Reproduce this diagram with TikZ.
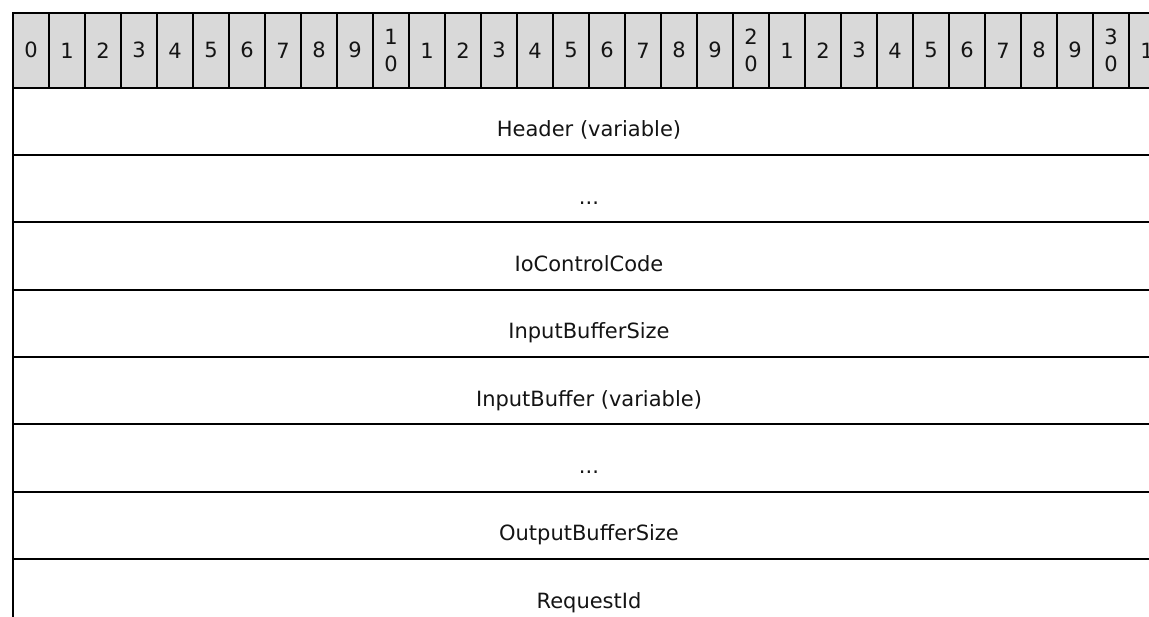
\documentclass[tikz,border=0pt]{standalone}
\usepackage{fontspec}
\setmainfont{DejaVu Sans}
\definecolor{hdrgray}{RGB}{217,217,217}
\definecolor{txt}{RGB}{20,20,20}
\newcommand{\mydots}{...}
\begin{document}
\begin{tikzpicture}[x=1pt,y=-1pt,
  cell/.style={draw=black, line width=2pt, fill=hdrgray, minimum width=36pt,
    minimum height=74.7pt, inner sep=0pt, anchor=north west, text=txt,
    font=\fontsize{21}{26.5}\selectfont, align=center},
  rowbox/.style={draw=black, line width=2pt, minimum width=1152pt,
    minimum height=67.33pt, inner sep=0pt, anchor=north west},
  rowtext/.style={anchor=base, inner sep=0pt, text=txt,
    font=\fontsize{21}{26}\selectfont}]
\useasboundingbox (0,0) rectangle (1149,617);
\clip (0,0) rectangle (1149,617);
% header bit cells
\foreach \i in {0,...,31}{
  \pgfmathtruncatemacro{\m}{mod(\i,10)}
  \pgfmathtruncatemacro{\t}{\i/10}
  \ifnum\m=0 \ifnum\i>0
    \node[cell] (h\i) at ({12+36*\i},12) {\t\\0};
  \else
    \node[cell] (h\i) at ({12+36*\i},12) {\m};
  \fi\else
    \node[cell] (h\i) at ({12+36*\i},12) {\m};
  \fi
}
% field rows
\foreach \k/\lab in {0/Header (variable),1/\mydots,2/IoControlCode,3/InputBufferSize,
  4/InputBuffer (variable),5/\mydots,6/OutputBufferSize,7/RequestId}{
  \node[rowbox] (r\k) at (12,{86.7+67.33*\k}) {};
  \node[rowtext, yshift=-15.5pt] (t\k) at (r\k.center) {\lab};
}
\end{tikzpicture}
\end{document}
